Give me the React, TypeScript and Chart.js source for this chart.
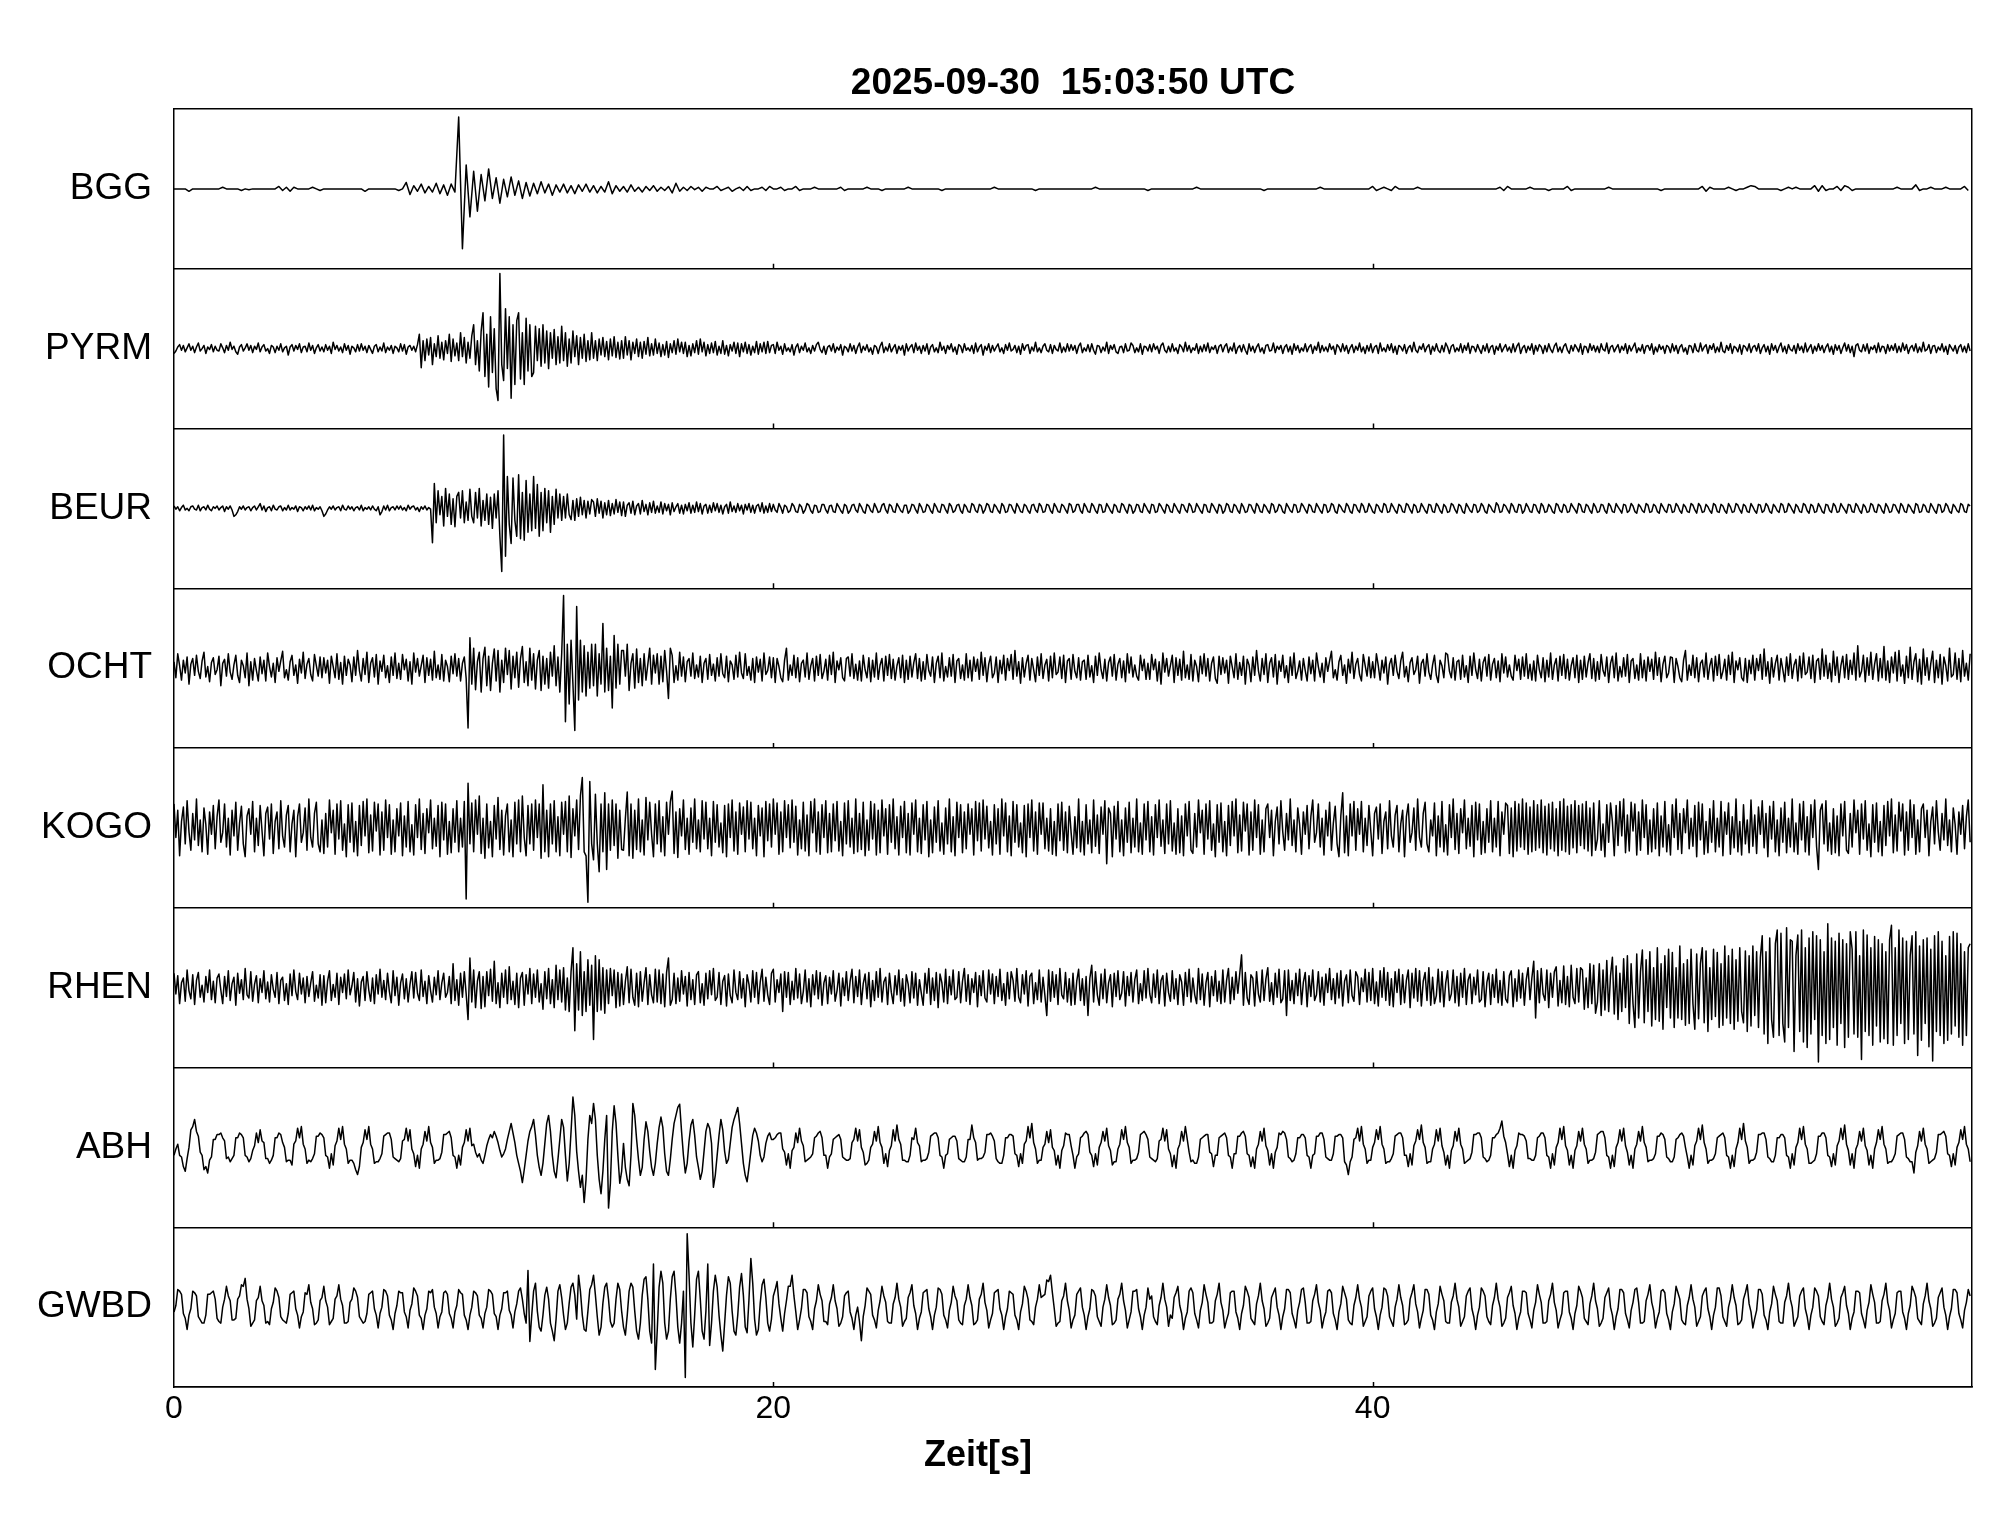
import React, { useEffect, useRef } from "react";
import { Chart, registerables } from "chart.js";

Chart.register(...registerables);

const TITLE = "2025-09-30  15:03:50 UTC";
const X_TITLE = "Zeit[s]";
const STATIONS = ["BGG", "PYRM", "BEUR", "OCHT", "KOGO", "RHEN", "ABH", "GWBD"];
// seconds between samples of each trace (same order as STATIONS)
const SAMPLE_INTERVALS = [0.125, 0.0625, 0.0625, 0.0625, 0.0625, 0.0625, 0.0625, 0.0625];
const X_MIN = 0;
const X_MAX = 60;
const X_TICK_STEP = 20;
const INNER_TICKS = [20, 40];

// amplitudes in percent of half a panel height (±100 touches the panel border)
const bgg = [
  0,0,0,0,-3,0,0,0, 0,0,0,0,0,2,0,0, 0,0,-2,0,-1,0,0,0, 0,0,0,0,3,-2,2,-3, 2,0,0,0,0,2,0,-2,
  0,0,0,0,0,0,0,0, 0,0,0,-3,0,0,0,0, 0,0,0,0,-2,0,8,-7, 4,-3,6,-5,3,-4,7,-6, 5,-8,6,-4,90,-75,30,-35,
  22,-28,18,-15,25,-12,14,-18, 12,-10,15,-8,10,-12,8,-9, 7,-6,9,-5,6,-8,5,-4, 6,-5,4,-6,5,-3,6,-4, 4,-5,3,-4,9,-6,4,-3,
  3,-4,5,-3,2,-4,3,-2, 4,-3,2,-2,3,-5,7,-3, 2,-2,3,-1,2,-3,2,0, 0,3,-2,0,2,-3,0,2, -2,3,-2,0,0,2,-2,3,
  0,0,2,-2,0,0,3,-2, 0,0,0,2,0,0,0,0, 0,0,2,-2,0,0,0,0, 0,2,0,0,0,-2,0,0, 0,0,0,0,2,0,0,0,
  0,0,0,0,0,-2,0,0, 0,0,0,0,0,0,0,0, 0,0,0,2,0,0,0,0, 0,0,0,0,0,0,-2,0, 0,0,0,0,0,0,0,0,
  0,0,0,0,0,0,2,0, 0,0,0,0,0,0,0,0, 0,0,0,0,-2,0,0,0, 0,0,0,0,0,0,0,0, 0,2,0,0,0,0,0,0,
  0,0,0,0,0,0,0,0, 0,0,0,-2,0,0,0,0, 0,0,0,0,0,0,0,0, 0,0,2,0,0,0,0,0, 0,0,0,0,0,0,0,0,
  3,-2,0,2,0,-2,3,0, 0,0,0,0,2,0,0,0, 0,0,0,0,0,0,0,0, 0,0,0,0,0,0,0,0, 0,0,2,-2,3,0,0,0,
  0,0,2,0,0,0,0,-2, 0,0,0,0,3,-2,0,0, 0,0,0,0,0,0,0,2, 0,0,0,0,0,0,0,0, 0,0,0,0,0,-2,0,0,
  0,0,0,0,0,0,0,0, 3,-3,2,0,0,0,0,2, 0,-2,0,0,2,4,3,0, 0,0,0,0,0,-2,0,2, 0,2,0,0,0,0,4,-3,
  4,-2,0,0,3,-2,4,2, -2,0,0,0,0,0,0,0, 0,0,0,0,2,0,0,0, 0,5,-2,0,0,2,0,0, 0,2,0,0,0,0,3,-2,
];

const pyrm = [
  -6,-3,2,5,-2,4,-4,1, 6,-2,3,-5,2,7,-3,0, 4,-6,2,-1,5,-4,3,-2, -3,6,1,-5,4,-2,8,-1, 3,-4,-7,2,5,-3,1,6,
  -2,4,-5,3,-1,7,-4,2, 5,-3,0,-6,4,2,-5,3, -2,6,-4,1,3,-8,2,5, -3,4,-1,6,-5,2,3,-4, 7,-2,4,-6,1,5,-3,2,
  -4,5,-2,3,-6,8,-1,4, -3,2,-5,6,-2,4,-7,3, 1,-4,5,-3,6,-2,3,-5, 4,-1,-6,3,5,-4,2,-3, 7,-5,2,-2,4,-6,3,1,
  -4,6,-3,5,-7,2,4,-2, 3,-4,5,18,-24,10,-15,12, -8,14,-20,6,-10,16,-12,8, -14,10,-6,18,-16,12,-9,7, -15,20,-10,14,-18,8,-12,16,
  30,-20,10,-28,22,45,-35,18, -48,40,-30,25,-50,-65,94,-20, -40,50,-25,40,-62,30,-45,35, 45,-38,20,-45,38,-28,30,-35, -30,28,-15,25,-22,30,-18,22,
  -25,20,-12,24,-20,15,-18,28, -15,20,-22,12,-18,22,-10,16, -20,14,-12,18,-16,10,-14,20, -12,10,-15,12,-8,14,-10,9, -14,12,-9,15,-11,8,-13,10,
  -12,15,-8,10,-14,8,-6,12, -10,8,-12,9,-7,14,-9,6, -8,12,-6,7,-10,5,-8,9, -11,6,-5,10,-7,12,-4,8, -6,8,-10,4,-9,6,-5,10,
  -7,12,-4,8,-9,5,-6,7, -5,9,-8,3,-6,10,-7,4, -9,5,-3,8,-6,7,-10,6, -4,8,-6,5,-8,3,-5,9, -7,6,-4,8,-6,9,-5,4,
  5,-6,8,-2,3,-7,6,-3, 1,-4,5,-8,2,6,-5,3, -2,7,-4,1,-6,4,-3,5, 8,-1,-5,3,-7,2,4,-3, 6,-5,2,-2,5,-8,3,1,
  -4,6,-3,4,-6,2,7,-5, 3,-2,5,-4,1,-7,4,2, -6,3,8,-5,2,-3,6,-4, 1,5,-6,3,-2,4,-8,6, -3,2,5,-5,7,-2,3,-6,
  4,-3,6,-7,2,5,-4,1, -5,8,-2,3,-6,4,-1,6, -4,2,-7,5,3,-5,6,-2, 1,-3,4,-6,7,-4,2,5, -8,3,-2,6,-5,4,-3,2,
  6,-4,1,-6,5,-2,7,-3, -1,4,-5,3,-7,6,-2,4, 5,-6,2,-3,8,-4,1,-5, 3,6,-2,-4,5,-6,4,-1, -3,7,-5,2,-4,6,-3,5,
  -2,4,-6,3,7,-5,1,-3, 5,-4,6,-2,-7,4,3,-5, 2,-3,8,-6,4,-1,5,-4, -6,2,3,-5,6,-3,-2,7, 4,-5,1,-4,6,-7,3,2,
  -3,5,-4,6,-1,3,-6,4, 7,-2,-5,3,-4,6,-3,1, -6,5,2,-4,8,-3,4,-5, 1,-2,6,-6,3,-4,5,-3, 7,-5,2,-1,4,-6,3,5,
  -4,3,6,-5,2,-3,7,-6, 1,4,-4,5,-2,-7,6,-3, 3,-5,2,6,-4,1,-6,4, 5,-3,-2,7,-5,3,-1,4, -6,2,5,-4,3,-7,6,-2,
  4,-5,1,-3,6,-4,2,5, -6,3,-2,8,-5,4,-3,2, -4,6,-1,3,-7,5,2,-4, 6,-3,4,-6,1,5,-5,3, -2,7,-4,2,-6,4,-3,6,
  -5,2,4,-6,7,-3,1,-4, 5,-2,6,-5,3,-7,4,2, -3,5,-6,1,4,-4,8,-2, -5,3,-1,6,-4,2,5,-7, 3,-3,6,-2,-5,4,-4,7,
  2,-6,3,5,-4,1,-3,6, -5,4,-2,7,-6,3,2,-4, 5,-1,-6,4,-3,6,-5,2, 4,-7,3,-2,6,-4,1,5, -3,2,-5,6,-4,3,7,-6,
  1,4,-5,3,-2,6,-7,4, -3,5,2,-6,4,-4,6,-1, -5,3,7,-4,2,-5,3,6, -2,-6,4,-3,5,1,-4,6, -7,3,2,-5,6,-2,4,-4,
  3,-5,6,-1,-3,7,-6,2, 4,-4,1,5,-5,3,-2,6, -6,4,-3,2,7,-5,1,-3, 5,-6,3,4,-2,6,-7,2, -4,5,-1,3,-6,4,2,-5,
  6,-3,4,-6,2,5,-4,1, -7,4,3,-5,6,-2,-4,7, -3,2,5,-6,4,-1,6,-5, 2,-4,8,-3,-5,4,-2,6, -6,3,1,-4,5,-7,4,2,
  -3,6,-5,2,4,-3,6,-6, 1,5,-4,3,-7,6,-2,4, -5,2,7,-4,3,-6,5,-1, -3,4,-6,6,-2,3,-5,7, -4,1,5,-6,3,-3,6,-2,
  4,-5,2,6,-4,3,-7,5, -2,4,-6,1,7,-3,5,-5, 3,-10,4,6,-2,-4,5,-3, 6,-6,2,-1,4,-5,7,-4, 3,2,-6,5,-3,4,-2,6,
  -5,3,-4,7,-2,5,-6,1, 4,-3,6,-5,2,-4,8,-3, -1,5,-6,3,4,-5,2,-2, 6,-4,3,-7,5,1,-3,4, -6,2,5,-4,3,-5,6,-3,
];

const beur = [
  3,-1,2,-3,1,4,-2,0, -3,2,3,-1,-2,4,-3,1, 2,-2,4,-1,-3,2,0,3, -2,1,3,-4,2,-1,3,-2, -10,-8,-4,2,-1,3,-2,1,
  2,-3,1,3,-2,2,6,-2, 3,-4,1,2,-3,4,-1,-2, 2,3,-3,1,-2,4,-2,1, -1,3,-4,2,1,-3,2,-1, 3,-2,4,-3,1,-1,2,-3,
  -10,-7,-2,2,-1,3,-2,1, 2,-3,4,-1,-2,3,-1,2, -3,1,2,-2,4,-3,1,-1, 2,-2,3,-1,-3,2,-8,-4, 3,-2,4,-3,1,2,-2,3,
  -1,3,-2,1,-3,4,-1,2, 3,-2,1,-4,2,-1,3,-2, 1,-1,-43,31,-18,22,-8,15, -22,25,-10,18,-20,12,-23,15, 20,-12,22,-18,8,-15,24,-10,
  -18,20,-12,25,-22,10,-15,18, -20,14,-25,18,-12,22,-35,-79, 92,-60,40,-20,-44,38,-15,-35, 42,-38,20,-40,35,-30,18,-28, 40,-25,30,-35,20,-28,25,-18,
  22,-30,15,-20,24,-12,18,-15, 15,-12,18,-8,-14,10,-15,12, -10,14,-8,10,-12,9,-7,11, 8,-10,12,-6,9,-12,7,-8, 10,-9,6,-7,11,-5,8,-9,
  8,-10,4,7,-6,9,-8,3, 6,-7,10,-4,5,-8,7,-5, 9,-6,3,-5,8,-7,6,-3, 5,-8,7,-4,2,6,-6,4, -7,5,-3,7,-6,4,-5,8,
  -4,6,-7,3,5,-6,4,-5, 7,-3,6,-5,4,-7,2,5, -6,8,-4,3,-5,6,-3,4, -7,5,-2,6,-5,4,-6,3, 5,-4,7,-6,3,-5,6,-4,
  5,-2,-5,6,1,-6,4,2, -5,-3,6,3,-4,-5,5,2, -6,-2,6,4,-3,-6,4,3, -5,-4,5,5,-2,-6,3,4, -4,-5,6,2,-3,-6,5,3,
  -6,-3,4,5,-2,-5,6,2, -4,-6,5,3,-3,-5,6,1, -5,-4,4,6,-2,-6,5,3, -4,-5,6,2,-3,-5,4,4, -6,-3,5,4,-2,-6,6,2,
  -5,-4,5,3,-3,-6,6,2, -4,-5,5,4,-2,-6,6,3, -5,-3,4,5,-3,-6,5,2, -4,-5,6,4,-3,-5,5,3, -6,-2,6,4,-4,-5,5,2,
  -3,-6,6,3,-5,-4,5,4, -2,-6,6,2,-4,-5,5,3, -3,-6,4,5,-2,-5,6,3, -5,-4,5,4,-3,-6,6,2, -4,-5,5,3,-2,-6,6,4,
  -5,-3,5,5,-3,-6,6,2, -4,-5,6,3,-3,-6,5,4, -5,-4,6,2,-3,-6,5,3, -4,-5,6,4,-2,-6,5,3, -6,-3,5,4,-4,-5,6,2,
  -3,-6,5,4,-5,-4,6,3, -2,-6,5,3,-4,-5,6,2, -3,-6,5,4,-2,-5,6,3, -5,-4,6,2,-3,-6,5,4, -4,-5,6,3,-2,-6,5,3,
  -6,-3,6,4,-4,-5,5,3, -3,-6,6,2,-5,-4,5,4, -2,-6,6,3,-4,-5,5,2, -3,-6,6,4,-5,-3,5,3, -4,-6,6,2,-3,-5,5,4,
  -5,-4,6,3,-2,-6,5,3, -4,-5,6,2,-3,-6,5,4, -5,-3,6,4,-4,-6,5,2, -3,-5,6,3,-4,-6,5,4, -2,-5,6,3,-5,-4,6,2,
  -4,-6,5,3,-3,-5,6,4, -5,-4,6,2,-3,-6,5,3, -4,-5,6,4,-2,-6,5,3, -5,-4,6,2,-3,-6,5,4, -4,-5,6,3,-3,-6,5,2,
  -5,-4,6,4,-2,-6,5,3, -4,-6,6,2,-3,-5,5,4, -5,-3,6,3,-4,-6,5,2, -3,-5,7,4,-5,-4,5,3, -2,-6,6,3,-4,-5,5,4,
  -6,-3,6,2,-4,-5,5,4, -3,-6,6,3,-5,-4,5,2, -4,-6,6,4,-3,-5,5,3, -5,-4,6,2,-2,-6,6,4, -4,-5,5,3,-3,-6,6,2,
  -5,-4,5,4,-3,-6,6,3, -4,-5,6,2,-2,-6,5,4, -5,-3,6,3,-4,-6,5,2, -3,-5,6,4,-5,-4,5,3, -4,-6,6,2,-3,-5,5,4,
  -5,-4,6,3,-3,-6,5,2, -4,-5,6,4,-2,-6,6,3, -5,-4,5,2,-3,-6,6,4, -4,-5,5,3,-3,-6,6,2, -5,-4,6,4,-2,-6,5,3,
  -4,-5,6,2,-3,-6,5,4, -5,-3,6,3,-4,-6,5,2, -3,-5,6,4,-5,-4,6,3, -2,-6,5,2,-4,-5,6,4, -3,-6,5,3,-5,-4,6,2,
  -4,-6,5,4,-3,-5,6,3, -5,-4,6,2,-2,-6,5,4, -4,-5,6,3,-3,-6,5,2, -5,-4,6,4,-4,-5,5,3, -3,-6,6,2,-5,-4,5,4,
  -2,-6,6,3,-4,-5,5,2, -3,-6,6,4,-5,-4,5,3, -4,-5,6,2,-3,-6,5,4, -5,-3,6,3,-4,-6,5,2, -3,-5,6,4,-4,-5,5,3,
];

const ocht = [
  8,-12,18,3,-15,10,-6,14, -20,5,12,-9,16,-4,-13,9, 20,-11,2,-17,7,13,-8,-2, 15,-22,6,11,-10,18,-5,-14, 4,16,-9,-18,10,3,-12,19,
  -22,8,-15,12,-3,-16,14,-7, 10,-16,19,2,-11,6,-18,13, -4,9,21,-12,-2,-15,8,16, -9,4,-19,11,-6,20,-13,5, 12,-8,-16,17,3,-10,14,-12,
  13,-6,10,-19,15,2,-12,18, -14,7,-20,15,-9,11,4,-17, 14,-9,22,-3,-16,12,-8,20, -18,6,13,-11,17,-20,9,-4, 16,-12,3,-18,14,-9,19,-13,
  6,-14,17,-2,11,-16,8,-20, 19,-5,12,-10,3,16,-18,13, -9,11,-15,21,-12,4,-14,17, -16,10,2,-17,15,-7,18,-10, 12,-16,6,14,-13,-75,38,-20,
  25,-27,8,20,-30,12,26,-22, 15,-28,6,24,-16,22,-30,10, -18,25,-8,22,-26,15,-12,20, -24,12,27,-18,8,-22,25,-15, 18,-26,10,22,-28,15,-20,12,
  -25,20,-10,28,-22,14,-30,18, 91,-67,30,-45,35,-20,-78,77, -40,35,-30,28,-35,20,-25,30, -22,30,-35,18,-20,56,-30,25, -28,15,-50,41,-25,30,-20,22,
  22,-10,30,-28,6,18,-25,24, -18,12,-22,18,-15,5,25,-20, 16,-6,18,-20,15,-17,22,-4, -38,25,16,-18,3,-15,20,-10, 14,-17,8,12,-10,19,-13,4,
  -11,15,-18,6,12,-14,17,-9, 5,-16,13,-10,18,-7,-12,15, -17,9,4,-14,16,-11,20,-6, -13,18,-9,2,-15,12,-18,14, -5,11,-16,19,-8,-3,14,-12,
  13,-18,12,2,-12,-17,10,25, -15,4,-9,16,-12,13,-17,6, 10,-11,19,-14,3,12,-16,15, -9,17,-13,-4,11,-15,16,-8, 20,-18,9,-2,13,-12,-16,12,
  14,-10,18,-13,5,-15,9,-16, 16,-2,-12,13,-17,10,-11,19, -14,4,12,-16,15,-9,17,-13, 11,-15,3,13,-12,16,-18,10, -14,15,-11,7,18,-13,12,-16,
  8,-14,17,-3,-10,14,-18,6, 15,-12,19,-16,2,-11,13,-10, 17,-18,9,12,-13,4,-15,18, -12,10,-16,14,-4,11,-14,20, -9,13,-17,5,15,-12,-6,14,
  -18,10,-7,16,-15,12,-3,17, -14,22,-10,8,-19,13,-11,6, 16,-15,12,-2,-17,14,-9,18, -13,4,11,-16,15,-12,19,-8, -5,14,-13,16,-18,9,12,-14,
  17,-4,-12,13,-15,8,10,-14, 16,-11,3,-18,15,-9,19,-2, -13,11,-16,7,14,-10,17,-15, 5,12,-12,9,-17,18,-6,14, -11,4,-10,-15,16,-3,11,-14,
  6,-14,17,-2,11,-16,8,-20, 19,-5,12,-10,3,16,-18,13, -9,11,-15,21,-12,4,-14,17, -16,10,2,-17,15,-7,18,-10, 12,-16,6,14,-13,-19,15,-8,
  13,-6,10,-19,15,2,-12,18, -14,7,-9,15,-20,11,4,-17, 14,-9,22,-3,-16,12,-8,18, -18,6,13,-11,17,-20,9,-4, 16,-12,3,-18,14,-9,19,-13,
  -4,9,-15,12,-3,-16,14,-7, 10,-16,19,2,-11,6,-18,13, -4,9,21,-12,-2,-15,8,16, -9,4,-19,11,-6,20,-13,5, 12,-8,-16,17,3,-10,14,-12,
  8,-12,18,3,-15,10,-6,14, -20,5,12,-9,16,-4,-13,9, 20,-11,2,-17,7,13,-8,-2, 15,-19,6,11,-10,18,-5,-14, 4,16,-9,-18,10,3,-12,19,
  17,-4,-12,13,-15,8,10,-14, 16,-11,3,-18,15,-9,19,-2, -13,11,-16,7,14,-10,17,-15, 5,12,-12,9,-17,18,-6,14, -11,4,-10,-15,16,-3,11,-14,
  14,-10,18,-13,5,-15,9,-16, 16,-2,-12,13,-17,10,-11,19, -14,4,12,-16,15,-9,17,-13, 11,-15,3,13,-12,16,-18,10, -14,15,-11,7,18,-13,12,-16,
  8,-14,17,-3,-10,14,-18,6, 15,-12,19,-16,2,-11,13,-10, 17,-18,9,12,-13,4,-15,18, -12,10,-16,14,-4,11,-14,20, -9,13,-17,5,15,-12,-6,14,
  13,-18,12,2,-12,-17,10,22, -15,4,-9,16,-12,13,-17,6, 10,-11,19,-14,3,12,-16,15, -9,17,-13,-4,11,-15,16,-8, 20,-18,9,-2,13,-12,-16,12,
  -18,10,-7,16,-15,12,-3,17, -14,24,-10,8,-19,13,-11,6, 16,-15,12,-2,-17,14,-9,18, -13,4,11,-16,15,-12,19,-8, -5,14,-13,16,-18,9,12,-14,
  24,-10,16,-13,6,-17,21,-9, 14,-18,3,15,-12,17,-14,10, -8,19,-15,28,-11,-4,16,-17, 13,-9,20,-14,5,18,-16,12, -12,27,-15,9,-18,14,-6,20,
  -16,22,-10,4,-19,15,-12,26, -14,8,18,-17,11,-20,24,-9, 13,-15,6,21,-18,10,-12,17, -20,14,3,-16,25,-11,-8,19, -14,12,-17,22,-10,6,-15,18,
];

const kogo = [
  30,-12,22,-35,8,26,-20,34, -5,-28,18,-15,36,-22,10,-30, 25,4,-33,20,-8,28,-26,14, 35,-18,-6,30,-24,12,-34,22, -10,32,-28,6,27,-20,-36,15,
  24,-8,33,-30,12,-22,28,-4, -35,18,26,-14,30,-32,8,20, -26,34,-10,-24,16,28,-30,5, 22,-36,14,30,-18,-6,25,-28, 36,-12,-24,18,32,-20,-30,10,
  -32,18,-24,35,-6,22,-33,30, -14,34,-28,5,-36,29,-18,31, -30,8,-35,28,-22,33,-10,36, -31,16,-29,32,-4,30,-34,20, -28,35,-12,29,-33,10,-30,24,
  -10,31,-35,15,-24,33,-30,4, -34,29,-12,36,-27,18,-32,24, -6,35,-26,12,-23,28,-36,32, -15,30,-33,8,-31,24,-18,34, -30,12,-24,33,-89,56,-20,31,
  -30,35,-8,40,-32,12,-38,30, -25,8,-36,28,-14,38,-27,22, -34,15,30,-30,10,-36,32,-20, 35,-30,40,-12,-35,28,-20,30, -28,35,-12,30,-38,54,-30,22,
  -36,30,-20,34,-30,14,-35,32, -8,33,-30,40,-37,24,-10,35, -27,40,63,-30,-35,-93,58,-20, -40,42,-20,-55,30,-30,44,-52, 30,-28,35,-22,30,-38,22,-27,
  -28,12,45,-35,30,-38,22,-27, 36,-30,10,-34,38,-15,32,-8, -36,30,-20,34,-30,14,-35,32, -8,33,46,-32,20,-37,24,-10, 35,-27,12,-33,25,-18,36,-26,
  10,-30,34,-14,32,-26,12,-35, 33,-18,29,-24,6,-31,28,-36, 30,-12,35,-29,20,-33,31,-8, 26,-30,34,-14,32,-26,12,-35, 28,-10,25,-36,33,-16,30,-24,
  36,-8,31,-33,20,-30,34,-12, 29,-25,35,-18,27,-34,10,-26, 32,-29,16,-35,33,-6,36,-30, 20,-33,29,-12,34,-31,18,-30, 30,-16,33,-29,8,-35,31,-20,
  34,-24,12,-32,36,-30,18,-27, 32,-35,10,-28,33,-14,30,-34, 22,-31,35,-10,24,-33,29,-18, 36,-26,14,-34,27,-12,33,-31, 18,-34,31,-8,35,-30,12,-32,
  29,-15,33,-36,10,-31,26,-18, 34,-29,6,-33,25,-20,36,-30, 14,-35,32,-12,29,-31,20,-26, 30,-8,24,-34,33,-16,31,-29, 35,-14,27,-25,8,-34,29,-20,
  24,-33,36,-10,31,-30,15,-35, 33,-18,29,-24,6,-31,28,-36, 30,-12,35,-29,20,-33,31,-8, 31,-26,12,-29,24,-33,8,-35, 30,-16,32,-28,20,-31,27,-6,
  -33,14,-25,36,-30,8,-34,29, -20,10,-31,35,-23,16,-32,26, -8,34,-45,25,18,-36,27,-14, 33,-30,10,-35,25,-18,32,-31, 12,-24,36,-30,6,-33,30,-15,
  33,-30,14,-34,29,-12,35,-23, 10,-32,30,-20,34,-29,6,-33, 24,-31,15,-35,30,-10,33,-28, -32,18,-24,35,-6,22,-33,30, -14,34,-28,5,-36,29,-18,31,
  -30,8,-35,28,-22,33,-10,36, -31,16,-29,32,-4,30,-34,20, -28,35,-12,29,-33,10,-30,24, 30,-12,22,-35,8,26,-20,34, -5,-28,18,-15,36,-22,10,-30,
  25,4,-33,20,-8,28,-26,14, 35,-18,-6,30,-24,12,-34,22, -10,32,-28,6,27,-20,-36,15, 44,-31,15,-35,30,-10,33,-28, 24,-8,33,-30,12,-22,28,-4,
  -35,18,26,-14,30,-32,8,20, -26,34,-10,-24,16,28,-30,5, 22,-36,14,30,-18,-6,25,-28, 36,-12,-24,18,32,-20,-30,10, -10,31,-35,15,-24,33,-30,4,
  -34,29,-12,36,-27,18,-32,24, -6,35,-26,12,-23,28,-36,32, -15,30,-33,8,-31,24,-18,34, -30,12,-24,33,-35,20,-8,31, 28,-32,25,-36,33,-29,30,-24,
  36,-27,31,-33,26,-30,34,-28, 29,-25,35,-31,27,-34,30,-26, 32,-29,24,-35,33,-28,36,-30, 27,-33,29,-25,34,-31,28,-22, 30,-26,33,-29,25,-35,31,-28,
  -14,34,-28,5,-36,29,-18,31, 8,-35,28,-22,33,-10,36,-31, 16,-29,32,-4,30,-34,20,-28, 35,-12,29,-33,10,-30,24,-26, 31,-35,15,-24,33,-30,4,-34,
  29,-12,36,-27,18,-32,24,-6, 35,-26,12,-23,28,-36,32,-15, 30,-33,8,-31,24,-18,34,-30, 12,-24,33,-35,20,-8,31,-33, 14,-25,36,-30,8,-34,29,-20,
  10,-31,35,-23,16,-32,26,-8, 34,-25,18,-36,27,-14,33,-30, 10,-35,25,-18,32,-31,12,-24, 36,-30,6,-33,30,-15,33,-30, 14,-34,29,-12,35,-23,-52,22,
  30,-20,34,-29,6,-33,24,-31, 15,-35,30,-10,33,-28,-32,18, -24,35,-6,22,-33,30,-14,34, -28,5,-36,29,-18,31,-30,8, -35,28,-22,33,-10,36,-31,16,
  -29,32,-4,30,-34,20,-28,35, -12,29,-33,10,-30,24,30,-12, 22,-35,8,26,-20,34,-5,-28, 18,-15,36,-22,10,-30,25,4, -33,20,-8,28,-26,14,35,-18,
];

const rhen = [
  18,-8,15,-20,6,12,-17,22, -4,-14,16,-21,9,19,-12,3, -18,14,-6,22,-15,8,-19,12, 17,-3,-20,14,-11,21,-16,5, 13,-22,18,-7,10,-15,24,-9,
  -13,20,-17,4,15,-19,11,-6, 21,-14,7,-18,16,-2,-12,19, -20,9,13,-16,5,-21,17,-10, 22,-5,-15,18,-8,12,-19,14, -11,6,20,-17,3,-13,16,-22,
  15,-19,8,21,-16,4,-12,18, -21,13,-6,17,-14,22,-9,2, 19,-18,11,-23,7,14,-16,20, -3,-17,12,-20,16,-8,23,-12, 9,-15,18,-5,-19,21,-10,13,
  -22,6,17,-14,11,-18,4,20, -13,19,-7,-16,22,-11,8,-20, 15,-4,-18,13,-9,21,-15,6, 18,-12,-6,14,-20,30,-16,10, -22,18,-12,20,-8,-40,37,-18,
  22,-25,8,20,-26,14,-24,20, -10,23,-17,33,-20,6,-25,18, -12,22,-20,26,-15,8,-21,18, -25,12,19,-22,16,-8,24,-20, 17,-12,22,-18,5,-27,20,-14,
  24,-20,10,-25,28,-15,22,-18, 25,-28,12,-30,20,50,-54,30, -28,45,-35,20,-30,35,-22,28, -65,40,-30,35,-28,25,-32,22, -20,24,-10,22,-25,19,-23,17,
  -21,8,26,-19,23,-12,-22,18, -24,20,-17,6,25,-21,16,-9, -19,23,-18,22,-20,17,-24,19, 37,-22,-15,18,-20,12,-17,21, -8,14,-23,19,-15,10,-21,16,
  20,-19,5,-22,18,-14,21,-9, 24,-16,-12,19,-21,8,15,-23, 17,-10,-19,22,-6,-15,20,-13, 11,-24,16,4,-18,21,-12,19, -20,7,23,-17,13,-9,-21,18,
  23,-18,10,-6,17,-30,20,-12, 19,-21,8,-15,24,-13,17,-20, -5,22,-18,11,-24,16,-9,21, -14,19,-22,6,15,-20,13,-8, 21,-17,-4,18,-23,12,-10,20,
  -16,8,23,-19,14,-11,22,-21, 5,17,-14,19,-24,9,-16,20, -12,24,-18,7,13,-21,18,-6, -20,15,-9,22,-17,11,-23,16, 4,-19,20,-13,18,-22,10,-7,
  -22,18,-7,24,-21,12,-16,19, -25,17,6,-18,23,-20,14,-9, 22,-15,-12,20,-19,8,24,-17, 16,-21,11,-6,19,-24,15,-10, 21,-13,-18,22,-8,17,-20,14,
  -11,23,-16,5,-22,19,-14,20, 9,-17,24,-12,-19,16,-8,21, -23,14,18,-20,6,-15,22,-18, 13,-10,-35,22,-17,20,-12,16, -21,24,-9,-14,19,-18,11,-22,
  18,-21,8,23,-16,11,-22,14, -35,12,28,-18,20,-9,-22,17, -14,23,-19,6,16,-24,18,-11, 21,-15,-7,20,-23,14,-10,19, -18,10,22,-20,5,-16,21,-13,
  24,-8,-19,17,-12,22,-20,9, 15,-23,18,-6,-17,21,-14,11, -21,16,7,-22,19,-11,23,-18, 12,-9,-20,24,-15,17,-22,6, 19,-24,14,-10,21,-17,8,-20,
  22,-18,9,24,-20,13,-15,20, -7,17,41,-22,19,-13,-21,16, 12,-23,20,-8,-18,22,-16,11, 25,-17,6,-21,18,-12,23,-19, -14,21,-35,22,-16,9,-20,18,
  -10,23,-21,7,19,-24,15,-11, 22,-16,-9,20,-18,13,-22,17, -6,24,-15,11,-20,18,-13,21, -23,8,16,-19,22,-10,-17,20, 14,-21,12,-5,23,-18,19,-16,
  24,-20,7,-23,21,-12,25,-16, 19,-22,11,-24,20,-6,23,-21, 16,-19,9,22,-25,18,-13,24, -17,21,-23,8,19,-16,25,-22, 13,-20,-10,23,-18,20,-24,6,
  21,-16,-8,22,-19,14,-23,18, -12,24,-21,10,17,-20,13,-9, 22,-18,-15,20,-24,7,18,-21, 16,-12,23,-19,9,-22,20,-14, -19,15,21,-24,11,-17,22,-13,
  18,-22,10,25,-15,12,33,-38, 21,-19,24,-8,-16,22,-25,18, -12,20,26,-23,9,-19,27,-21, 14,-24,28,-12,-20,24,-18,25, 22,-27,12,-25,30,-20,28,-32,
  -18,30,-35,22,-28,34,-30,15, 38,-33,27,-40,18,-30,36,-25, 40,-45,30,-20,-50,42,-38,20, 47,-44,35,-30,45,-48,25,-40, 50,-42,30,-52,40,-25,48,-38,
  44,-50,25,-38,52,-40,30,-47, 35,-45,48,-20,-52,42,-39,30, 50,-44,46,-55,25,-40,48,-36, 44,-50,30,-47,52,-38,40,-45, 48,-52,35,-42,50,-30,-44,46,
  -55,40,-48,52,-35,45,-50,38, 65,-58,45,-70,62,-40,-62,55, 72,-60,68,-45,-68,75,-50,60, 58,-80,40,66,-55,72,-68,50, -75,62,-58,70,-40,65,-93,60,
  -60,45,-70,80,-65,62,-50,58, -72,68,-45,60,-75,55,-62,70, 48,-58,70,-62,40,-90,72,-55, 66,-60,50,-72,64,-48,60,-68, 55,-64,45,-70,60,78,-72,50,
  -60,72,-45,62,-70,58,-65,40, 65,-58,70,-85,52,-66,60,-45, 62,-74,48,-92,65,-55,70,-60, 58,-70,40,-66,64,-58,70,-48, 68,-62,55,-72,45,-60,50,55,
];

const abh = [
  -10,-2,4,-10,-12,-24,-30,-14, 0,22,26,35,20,14,-6,-10, -28,-24,-32,-16,-12,10,10,16, 16,18,12,8,-14,-12,-18,-14, -10,12,12,18,16,12,-10,-12,
  -18,-14,-4,2,18,6,22,8, 6,-14,-14,-20,-16,-10,12,12, 18,16,6,0,-18,-16,-16,-22, 4,8,24,12,26,4,-2,-20, -16,-18,-14,-8,14,14,18,16,
  12,-10,-12,-26,-8,-22,2,8, 24,10,26,4,-2,-20,-16,-16, -20,-28,-34,-24,0,6,22,10, 26,4,-2,-20,-18,-18,-14,-8, 14,16,18,18,10,-12,-14,-16,
  -18,-14,8,10,24,8,22,-2, -8,-24,-10,-26,-2,4,20,8, 26,6,0,-20,-16,-16,-14,-6, 16,16,18,20,12,-10,-12,-26, -10,-22,0,6,22,8,24,2,
  4,-6,-12,-8,-16,-20,-10,2, 10,16,12,20,14,6,-4,-12, -8,-2,10,20,30,18,6,-10, -20,-30,-44,-28,-10,8,20,26, 35,15,-10,-25,-35,-20,5,30,
  40,20,-10,-30,-38,-15,10,35, 25,-10,-42,-20,20,63,40,-5, -30,-50,-35,-69,-40,10,40,30, 55,35,-10,-40,-58,-30,10,40, -76,-45,20,52,30,-10,-45,-30,
  5,-25,-40,-48,-10,55,40,10, -15,-35,-25,10,32,20,-5,-25, -35,-20,5,25,38,25,-8,-30, -35,-15,10,30,40,50,54,20, -10,-32,-20,8,28,35,15,-12,
  -25,-40,-30,-5,20,30,24,5, -50,-35,-10,15,35,22,-5,-20, -15,5,25,35,42,50,30,5, -20,-35,-43,-25,-5,15,24,18, 8,-10,-18,-12,5,14,18,10,
  10,12,16,18,18,-2,-6,-22, -8,-26,-4,0,18,6,24,8, 2,-18,-16,-14,-12,-8,12,14, 18,20,12,-10,-10,-26,-12,-8, 10,12,14,16,10,-12,-14,-16,
  -16,-14,6,10,24,8,22,0, -6,-22,-20,-16,0,4,20,8, 26,6,0,-20,-8,-24,-4,2, 22,8,28,10,4,-16,-16,-18, -18,-10,12,10,24,6,2,-18,
  -16,-16,-14,-6,14,16,18,18, 12,-10,-12,-26,-10,-8,10,12, 14,14,8,-14,-16,-18,-18,-12, 10,10,28,12,6,-16,-14,-14, -12,-6,16,16,18,14,8,-14,
  -18,-20,-20,-10,12,12,16,16, 14,-8,-10,-24,-8,-20,4,8, 26,12,30,6,-2,-20,-16,-16, 0,4,20,6,22,0,-4,-22, -10,-26,-4,2,18,16,16,2,
  -10,-26,-12,-8,12,14,18,20, 16,-6,-10,-24,-8,-22,0,6, 20,8,24,2,-4,-22,-18,-18, -2,4,22,10,26,6,0,-20, -16,-16,-14,-6,16,18,20,16,
  10,-12,-14,-16,-18,-14,8,10, 24,8,22,-2,-8,-24,-10,-26, -2,4,20,8,26,10,-6,-18, -16,-20,-20,-12,10,12,14,16, 16,-6,-8,-24,-10,-10,12,14,
  16,18,12,-10,-12,-26,-8,-8, 14,14,18,20,14,-8,-10,-24, -12,-26,-2,4,20,8,24,2, -4,-22,-8,-26,-6,0,18,16, 20,18,10,-12,-14,-18,-16,-8,
  12,12,16,16,12,-10,-12,-26, -10,-8,14,14,18,18,10,-12, -14,-16,-16,-8,14,14,16,16, 12,-18,-22,-34,-18,-12,10,12, 24,8,26,4,-2,-20,-16,-16,
  0,6,22,10,26,4,-2,-20, -18,-18,-14,-8,14,16,18,18, 12,-10,-10,-24,-8,-22,2,8, 22,10,28,6,0,-20,-18,-18, -2,4,22,8,24,2,-6,-22,
  -10,-26,-4,2,20,8,24,4, -2,-20,-18,-16,-14,-6,16,16, 18,18,12,-12,-14,-18,-16,-10, 12,12,16,18,24,33,14,6, -8,-24,-10,-26,-4,2,18,16,
  16,14,8,-14,-14,-16,-16,-10, 12,14,18,18,12,-10,-12,-26, -8,-22,0,6,24,10,26,2, -4,-22,-10,-26,-4,2,20,8, 24,4,-2,-20,-16,-16,-14,-6,
  16,18,20,20,12,-10,-12,-26, -10,-24,0,6,22,8,24,2, -6,-22,-10,-26,-2,4,20,8, 26,6,0,-18,-16,-16,-14,-8, 14,14,18,16,10,-12,-14,-18,
  -18,-12,10,12,16,18,14,0, -12,-26,-10,-22,2,8,24,10, 28,6,-2,-20,-16,-16,-14,-8, 12,14,16,18,12,-10,-12,-26, -10,-24,-2,6,24,10,30,8,
  0,-20,-16,-16,-14,-6,16,16, 18,18,10,-12,-14,-18,-18,-10, 12,12,16,16,12,-10,-12,-26, -8,-22,0,6,24,10,26,4, -2,-20,-20,-18,-16,-8,14,14,
  18,18,12,-10,-12,-24,-8,-22, 2,8,24,10,28,4,-4,-22, -8,-26,-2,4,20,8,24,2, -4,-22,-10,-26,-2,6,22,10, 26,4,-2,-20,-18,-18,-14,-8,
  14,16,18,18,10,-12,-14,-18, -18,-32,-6,2,20,8,24,4, -2,-20,-18,-16,-14,-6,16,16, 18,20,14,-8,-10,-24,-8,-22, 0,6,22,10,26,4,-2,-18,
];

const gwbd = [
  -6,2,22,20,16,-8,-14,-28, -10,-2,20,18,14,-12,-16,-20, -20,-10,16,16,18,20,10,-14, -18,-20,0,10,26,14,8,-16, -16,-14,10,14,28,26,36,10,
  -2,-24,-20,-16,8,12,26,8, 2,-20,-18,-22,-2,6,24,20, 12,-12,-16,-18,-20,-8,16,18, 20,-2,-10,-26,-12,-6,18,16, 28,6,-2,-22,-20,-16,8,12,
  26,8,0,-22,-18,-14,10,14, 28,10,2,-20,-20,-18,6,10, 24,20,12,-12,-16,-20,-18,-8, 16,18,20,-2,-10,-26,-8,0, 22,20,14,-10,-16,-28,-8,2,
  20,18,18,-6,-12,-26,-4,4, 24,20,14,-10,-14,-28,-10,-2, 20,18,22,0,-8,-26,-12,-6, 18,20,16,-8,-14,-26,-6,2, 22,18,16,-10,-16,-28,-10,0,
  20,18,14,-10,-14,-26,-8,0, 22,20,16,-8,-12,-28,-10,-2, 18,18,20,-4,-10,-26,-6,4, 20,24,10,-8,-20,46,-43,-10, 20,30,-5,-25,-30,-10,15,25,
  10,-20,-30,-42,-15,20,28,12, -10,-28,-20,5,25,30,15,-15, 40,20,-10,-28,-30,-5,22,28, 40,15,-12,-35,-25,5,25,30, 10,-18,-25,-20,10,30,22,-5,
  -25,-35,-10,20,30,25,-5,-30, -40,-20,15,35,38,10,-30,-45, 54,-78,-30,25,45,30,-20,-40, -30,10,38,45,15,-25,-45,-20, 20,-88,92,40,-20,-50,-10,35,
  45,10,-30,-40,-5,54,-48,-20, 20,40,25,-10,-35,-55,-20,15, 38,30,-5,-30,-35,-10,25,42, 15,-25,-32,10,61,30,-15,-35, -28,5,28,35,12,-20,-30,-15,
  14,22,32,4,-14,-30,-8,8, 26,26,40,14,-6,-28,-16,-2, 22,22,18,-12,-18,-28,-2,8, 28,16,8,-18,-18,-22,4,12, 28,8,-2,-24,-20,-12,14,18,
  20,-6,-14,-28,-10,0,-18,-42, -12,2,24,20,16,-10,-16,-26, -4,8,26,14,6,-18,-20,-20, 4,12,30,10,0,-24,-18,-14, 12,18,28,2,-8,-28,-14,-6,
  18,20,22,-2,-12,-28,-10,0, 24,22,16,-10,-16,-26,-4,6, 26,14,8,-16,-20,-22,2,10, 28,12,2,-22,-20,-16,10,16, 30,6,-4,-26,-16,-8,18,20,
  22,-2,-10,-28,-12,-2,20,18, 16,-10,-16,-28,-6,4,26,20, 10,-16,-18,-22,0,10,28,12, 14,16,34,32,40,18,-2,-24, -20,-18,8,14,30,8,-4,-26,
  -16,-10,16,20,24,0,-10,-28, -12,-2,22,20,14,-12,-18,-24, 0,10,28,12,2,-22,-20,-16, 10,16,30,8,-4,-26,-16,-6, 20,20,22,-2,-12,-28,-10,0,
  24,10,14,-12,-18,-22,2,12, 30,10,0,-24,-10,-14,12,18, 26,2,-8,-28,-14,-6,20,24, 18,-8,-16,-26,-4,6,28,16, 6,-20,-20,-18,8,16,30,6,
  -4,-26,-16,-8,18,20,20,-6, -14,-28,-8,2,26,20,12,-14, -18,-22,4,14,30,8,-2,-24, -20,-14,12,18,24,0,-10,-28, -12,-2,22,22,18,-8,-16,-26,
  -4,6,22,24,6,-20,-20,-18, 8,16,28,6,-4,-26,-14,-6, 20,22,18,-8,-16,-28,-6,4, 26,18,10,-16,-20,-22,2,12, 28,10,0,-24,-18,-12,14,20,
  24,-2,-12,-28,-10,0,24,22, 14,-12,-18,-24,0,10,28,12, 2,-22,-20,-16,10,18,28,4, -6,-26,-14,-4,22,22,16,-10, -16,-28,-6,4,26,16,8,-18,
  -20,-20,6,14,30,10,0,-24, -18,-12,14,20,24,-2,-12,-28, -10,0,24,20,14,-12,-18,-22, 2,12,30,10,0,-24,-20,-14, 12,18,26,2,-8,-28,-14,-6,
  20,20,18,-8,-16,-26,-4,6, 28,16,6,-20,-20,-18,8,16, 30,6,-4,-26,-16,-8,18,20, 20,-6,-14,-28,-8,2,26,20, 12,-14,-18,-22,4,14,30,8,
  -2,-24,-20,-14,12,18,24,0, -10,-28,-12,-2,22,22,18,-8, -16,-26,-4,6,22,24,6,-20, -20,-18,8,16,28,6,-4,-26, -14,-6,20,22,18,-8,-16,-28,
  -6,4,26,18,10,-16,-20,-22, 2,12,28,10,0,-24,-18,-12, 14,20,24,-2,-12,-28,-10,0, 24,24,14,-12,-18,-24,0,10, 28,12,2,-22,-20,-16,10,18,
  28,4,-6,-26,-14,-4,22,22, 16,-10,-16,-28,-6,4,26,16, 8,-18,-20,-20,6,14,30,10, 0,-24,-18,-12,14,20,24,-2, -12,-28,-10,0,24,20,14,-12,
  -18,-22,2,12,30,10,0,-24, -20,-14,12,18,26,2,-8,-28, -14,-6,20,20,18,-8,-16,-26, -4,6,28,16,6,-20,-20,-18, 8,16,30,6,-4,-26,-16,-8,
  18,20,20,-6,-14,-28,-8,2, 26,20,12,-14,-18,-22,4,14, 30,8,-2,-24,-20,-14,12,18, 24,0,-10,-28,-12,-2,22,22, 18,-8,-16,-26,-4,6,22,14,
];

const TRACES = [bgg, pyrm, beur, ocht, kogo, rhen, abh, gwbd];

const FONT = "'Liberation Sans', Arial, Helvetica, sans-serif";

const panelTicks = {
  id: "panelTicks",
  afterDatasetsDraw(chart: any) {
    const { ctx, scales } = chart;
    const x = scales.x;
    const y = scales.y;
    ctx.save();
    ctx.strokeStyle = "#000";
    ctx.lineWidth = 1.5;
    for (let k = 0; k < STATIONS.length; k++) {
      const py = y.getPixelForValue(k);
      for (const t of INNER_TICKS) {
        const px = Math.round(x.getPixelForValue(t)) + 0.5;
        ctx.beginPath();
        ctx.moveTo(px, py);
        ctx.lineTo(px, py - 5);
        ctx.stroke();
      }
    }
    ctx.restore();
  },
};

const xAxisTitle = {
  id: "xAxisTitle",
  afterDraw(chart: any) {
    const { ctx, chartArea } = chart;
    ctx.save();
    ctx.fillStyle = "#000";
    ctx.font = `bold 36px ${FONT}`;
    ctx.textAlign = "center";
    ctx.textBaseline = "middle";
    const cx = (chartArea.left + chartArea.right) / 2 - 95;
    ctx.fillText(X_TITLE, cx, chartArea.bottom + 69);
    ctx.restore();
  },
};

export default function App() {
  const canvasRef = useRef<HTMLCanvasElement | null>(null);

  useEffect(() => {
    const canvas = canvasRef.current;
    if (!canvas) return;
    const n = STATIONS.length;
    const datasets = TRACES.map((trace, i) => ({
      label: STATIONS[i],
      data: trace.map((v, j) => ({ x: j * SAMPLE_INTERVALS[i], y: n - 0.5 - i + v / 200 })),
      borderColor: "#000",
      borderWidth: 1.5,
      borderJoinStyle: "round" as const,
      pointRadius: 0,
      tension: 0,
      yAxisID: "y",
      xAxisID: "x",
    }));

    const chart = new Chart(canvas, {
      type: "line",
      data: { datasets },
      plugins: [panelTicks, xAxisTitle],
      options: {
        animation: false,
        responsive: false,
        devicePixelRatio: 1,
        parsing: false,
        normalized: true,
        layout: { padding: { left: 0, right: 33, top: 0, bottom: 46 } },
        plugins: {
          legend: { display: false },
          tooltip: { enabled: false },
          title: {
            display: true,
            text: TITLE,
            fullSize: false,
            color: "#000",
            font: { family: FONT, size: 37, weight: "bold" },
            padding: { top: 62, bottom: 2.6 },
          },
        },
        scales: {
          x: {
            type: "linear",
            min: X_MIN,
            max: X_MAX,
            grid: { display: false, drawTicks: false },
            border: { display: true, color: "#000", width: 1.5 },
            ticks: {
              stepSize: X_TICK_STEP,
              color: "#000",
              font: { family: FONT, size: 32 },
              padding: 3,
              maxRotation: 0,
              callback: (v: any) => (Number(v) >= X_MAX ? "" : String(v)),
            },
            title: { display: false },
            afterFit: (s: any) => {
              s.height = 89;
            },
          },
          y: {
            type: "linear",
            position: "left",
            min: 0,
            max: n,
            grid: { display: false, drawTicks: false },
            border: { display: true, color: "#000", width: 1.5 },
            afterBuildTicks: (axis: any) => {
              axis.ticks = STATIONS.map((_, i) => ({ value: n - 0.5 - i }));
            },
            ticks: {
              autoSkip: false,
              color: "#000",
              font: { family: FONT, size: 37 },
              padding: 22,
              callback: (v: any) => {
                const i = Math.round(n - 0.5 - Number(v));
                return STATIONS[i] ?? "";
              },
            },
            afterFit: (s: any) => {
              s.width = 174;
            },
          },
          yGrid: {
            type: "linear",
            position: "right",
            min: 0,
            max: n,
            afterBuildTicks: (axis: any) => {
              axis.ticks = Array.from({ length: n + 1 }, (_, k) => ({ value: k }));
            },
            ticks: { display: false },
            grid: { display: true, color: "#000", lineWidth: 1.5, drawTicks: false },
            border: { display: true, color: "#000", width: 1.5 },
            afterFit: (s: any) => {
              s.width = 0;
            },
          },
        },
      } as any,
    });
    return () => chart.destroy();
  }, []);

  return (
    <div style={{ position: "absolute", left: 0, top: 0, width: 2005, height: 1522, background: "#fff" }}>
      <canvas ref={canvasRef} width={2005} height={1522} style={{ display: "block" }} />
    </div>
  );
}
